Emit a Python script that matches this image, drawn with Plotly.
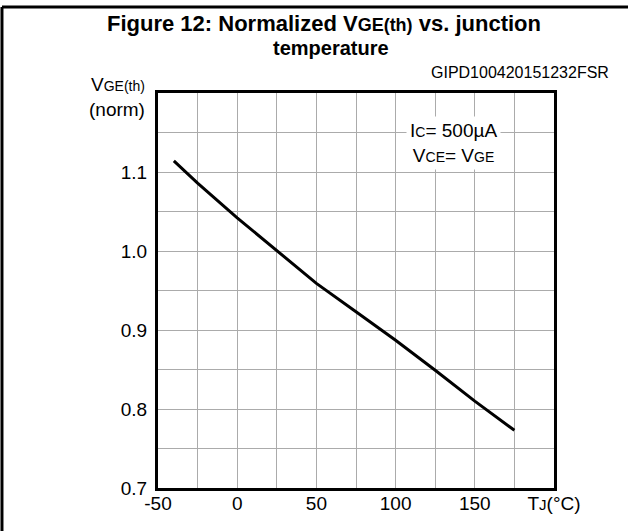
import plotly.graph_objects as go

# Normalized VGE(th) vs junction temperature
temp_c = [-40, -25, 0, 25, 50, 75, 100, 125, 150, 175]
vge_norm = [1.114, 1.086, 1.042, 1.000, 0.959, 0.923, 0.887, 0.849, 0.810, 0.773]

x_ticks = [-50, -25, 0, 25, 50, 75, 100, 125, 150, 175, 200]
x_labels = ["-50", "", "0", "", "50", "", "100", "", "150", "",
            "T<span style='font-size:15px'>J</span>(°C)"]
y_ticks = [0.7, 0.75, 0.8, 0.85, 0.9, 0.95, 1.0, 1.05, 1.1, 1.15, 1.2]
y_labels = ["0.7", "", "0.8", "", "0.9", "", "1.0", "", "1.1", "", ""]

FONT = "Arial, Liberation Sans, sans-serif"
SUB = "<span style='font-size:{}px'>{}</span>"

fig = go.Figure()
fig.add_trace(go.Scatter(x=temp_c, y=vge_norm, mode="lines",
                         line=dict(color="black", width=3), showlegend=False,
                         hoverinfo="skip"))

fig.update_layout(
    width=628, height=531,
    margin=dict(l=158, r=74, t=93, b=43),
    paper_bgcolor="white", plot_bgcolor="white",
    font=dict(family=FONT, color="black", size=19),
    xaxis=dict(range=[-50, 200], tickvals=x_ticks, ticktext=x_labels,
               showgrid=True, gridcolor="#ababab", gridwidth=1,
               showline=True, linecolor="black", linewidth=3, mirror=True,
               ticks="", zeroline=False, ticklabelstandoff=-4),
    yaxis=dict(range=[0.7, 1.2], tickvals=y_ticks, ticktext=y_labels,
               showgrid=True, gridcolor="#ababab", gridwidth=1,
               showline=True, linecolor="black", linewidth=3, mirror=True,
               ticks="", zeroline=False, ticklabelstandoff=4),
)

annotations = [
    dict(text="<b>Figure 12: Normalized V" + SUB.format(18, "GE(th)") +
              " vs. junction</b>",
         x=0.420, y=1.177, xanchor="center", yanchor="middle",
         font=dict(size=22)),
    dict(text="<b>temperature</b>", x=0.438, y=1.114,
         xanchor="center", yanchor="middle", font=dict(size=20)),
    dict(text="GIPD100420151232FSR", x=1.144, y=1.053,
         xanchor="right", yanchor="middle", font=dict(size=16)),
    dict(text="V" + SUB.format(14, "GE(th)") + "<br>(norm)", x=-0.028, y=0.989,
         xanchor="right", yanchor="middle", align="right"),
    dict(text="I" + SUB.format(14, "C") + "= 500µA<br>V" + SUB.format(14, "CE") +
              "= V" + SUB.format(14, "GE"),
         x=0.746, y=0.873, xanchor="center", yanchor="middle",
         bgcolor="white", borderpad=3),
]
for a in annotations:
    a.update(xref="paper", yref="paper", showarrow=False)
fig.update_layout(annotations=annotations)

# outer frame of the datasheet figure
fig.add_shape(type="line", xref="paper", yref="paper",
              x0=-0.394, x1=1.2, y0=1.218, y1=1.218,
              line=dict(color="black", width=3))
fig.add_shape(type="line", xref="paper", yref="paper",
              x0=-0.394, x1=-0.394, y0=1.218, y1=-0.12,
              line=dict(color="black", width=3))

# drop the page's default body margin so the figure sits at (0, 0)
fig.write_html("out.html", config={"displayModeBar": False},
               post_script="document.body.style.margin='0';")
